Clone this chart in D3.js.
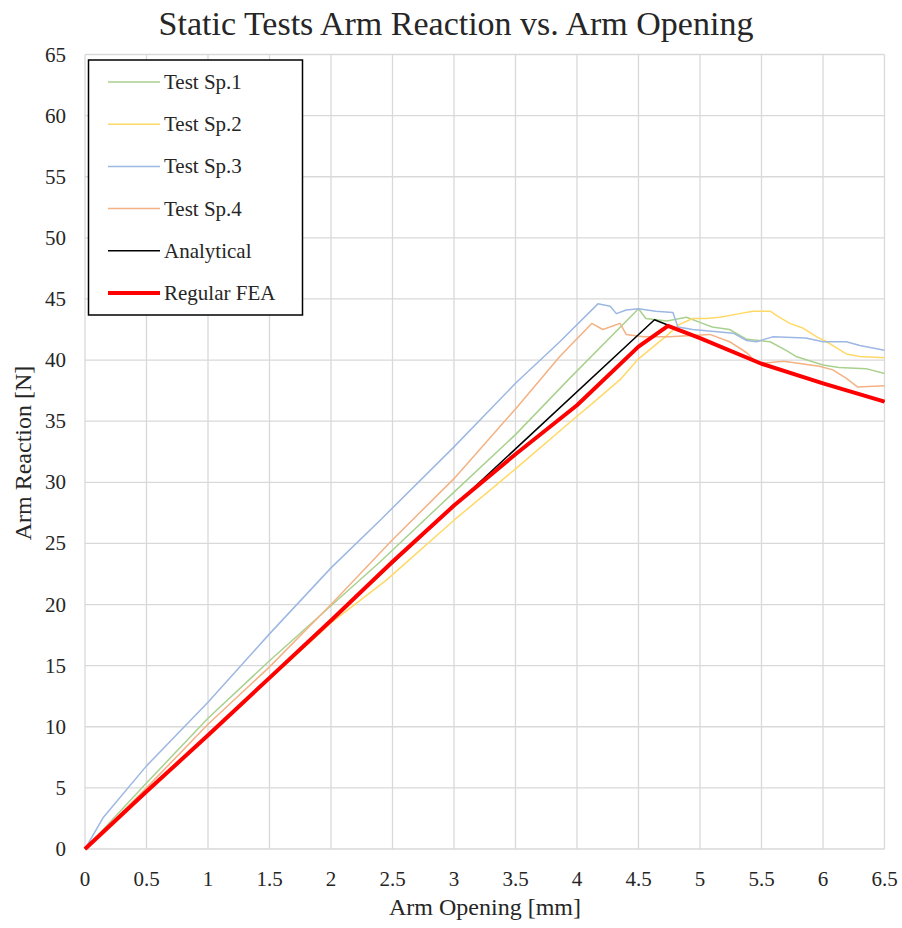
<!DOCTYPE html>
<html>
<head>
<meta charset="utf-8">
<script src="https://cdn.jsdelivr.net/npm/d3@7"></script>
<style>
  body { margin: 0; background: #fff; }
  text { font-family: "Liberation Serif", "Times New Roman", serif; fill: #262626; }
</style>
</head>
<body>
<script>
// data: [arm opening mm, arm reaction N]
var sp1 = [[0,0],[0.5,5.4],[1,10.7],[1.5,15.4],[2,19.9],[2.4,23.5],[3,29.2],[3.5,33.9],[3.93,38.4],[4.5,44.2],[4.56,43.4],[4.73,43.2],[4.89,43.5],[5.02,43.0],[5.1,42.7],[5.24,42.5],[5.38,41.7],[5.57,41.5],[5.7,40.8],[5.78,40.3],[6.0,39.6],[6.13,39.4],[6.35,39.3],[6.5,38.9]];
var sp2 = [[0,0],[0.5,4.6],[1,9.3],[1.5,13.9],[2,18.5],[2.45,22.0],[3,26.9],[3.5,31.1],[4,35.4],[4.13,36.5],[4.35,38.4],[4.5,40.1],[4.73,42.0],[4.83,42.9],[4.94,43.4],[5.05,43.4],[5.16,43.5],[5.32,43.8],[5.43,44.0],[5.57,44.0],[5.63,43.6],[5.73,43.0],[5.84,42.6],[5.95,41.9],[6.03,41.5],[6.11,41.0],[6.19,40.5],[6.3,40.3],[6.5,40.2]];
var sp3 = [[0,0],[0.15,2.6],[0.5,6.8],[1,12.0],[1.5,17.6],[2,23.0],[2.4,26.9],[3,32.9],[3.5,38.1],[3.86,41.5],[4.17,44.6],[4.27,44.4],[4.32,43.8],[4.4,44.1],[4.5,44.2],[4.64,44.0],[4.78,43.9],[4.82,42.7],[4.94,42.5],[5.27,42.2],[5.38,41.6],[5.46,41.5],[5.59,41.9],[5.86,41.8],[6.0,41.5],[6.19,41.5],[6.3,41.2],[6.5,40.8]];
var sp4 = [[0,0],[0.5,5.0],[1,10.2],[1.5,14.9],[2,20.0],[2.5,25.3],[3,30.3],[3.5,36.0],[3.86,40.3],[4.12,43.0],[4.21,42.5],[4.35,43.0],[4.4,42.1],[4.54,41.9],[4.75,41.9],[5.08,42.1],[5.24,41.5],[5.38,40.6],[5.47,39.7],[5.68,39.9],[5.97,39.5],[6.08,39.2],[6.19,38.5],[6.28,37.8],[6.5,37.9]];
var analytical = [[0,0],[4.63,43.3],[4.83,42.5],[5.0,41.8],[5.5,39.7],[6.0,38.1],[6.5,36.6]];
var regularFea = [[0,0],[0.5,4.7],[1,9.3],[1.5,14.0],[2,18.7],[2.5,23.5],[3,28.1],[3.5,32.3],[4,36.3],[4.5,41.1],[4.74,42.8],[5.0,41.8],[5.5,39.7],[6.0,38.1],[6.5,36.6]];

var seriesNames = ["Test Sp.1", "Test Sp.2", "Test Sp.3", "Test Sp.4", "Analytical", "Regular FEA"];
var xTicks = [0, 0.5, 1, 1.5, 2, 2.5, 3, 3.5, 4, 4.5, 5, 5.5, 6, 6.5];
var yTicks = [0, 5, 10, 15, 20, 25, 30, 35, 40, 45, 50, 55, 60, 65];

var allSeries = [sp1, sp2, sp3, sp4, analytical, regularFea];
var colors = ["#a9d18e", "#ffd966", "#9db7e3", "#f4b183", "#000000", "#ff0000"];
var widths = [1.5, 1.5, 1.5, 1.5, 1.5, 4];

var width = 902, height = 928;
var svg = d3.select("body").append("svg")
    .attr("width", width)
    .attr("height", height);

var x = d3.scaleLinear().domain([0, 6.5]).range([85, 884.5]);
var y = d3.scaleLinear().domain([0, 65]).range([849, 54.5]);

// gridlines
svg.append("g").selectAll("line.vgrid")
    .data(xTicks).enter().append("line")
    .attr("x1", d => x(d)).attr("x2", d => x(d))
    .attr("y1", y(0)).attr("y2", y(65))
    .attr("stroke", "#d9d9d9").attr("stroke-width", 1.3);

svg.append("g").selectAll("line.hgrid")
    .data(yTicks).enter().append("line")
    .attr("x1", x(0)).attr("x2", x(6.5))
    .attr("y1", d => y(d)).attr("y2", d => y(d))
    .attr("stroke", "#d9d9d9").attr("stroke-width", 1.3);

// tick labels
svg.append("g").selectAll("text")
    .data(xTicks).enter().append("text")
    .attr("x", d => x(d))
    .attr("y", 886)
    .attr("text-anchor", "middle")
    .attr("font-size", 21)
    .text(d => d);

svg.append("g").selectAll("text")
    .data(yTicks).enter().append("text")
    .attr("x", 66)
    .attr("y", d => y(d) + 7)
    .attr("text-anchor", "end")
    .attr("font-size", 21)
    .text(d => d);

// series lines
var line = d3.line().x(d => x(d[0])).y(d => y(d[1]));

svg.append("g").selectAll("path")
    .data(allSeries).enter().append("path")
    .attr("d", line)
    .attr("fill", "none")
    .attr("stroke", (d, i) => colors[i])
    .attr("stroke-width", (d, i) => widths[i])
    .attr("stroke-linejoin", "round");

// titles
svg.append("text")
    .attr("x", 456).attr("y", 35)
    .attr("text-anchor", "middle")
    .attr("font-size", 34)
    .text("Static Tests Arm Reaction vs. Arm Opening");

svg.append("text")
    .attr("x", 485).attr("y", 915)
    .attr("text-anchor", "middle")
    .attr("font-size", 24)
    .text("Arm Opening [mm]");

svg.append("text")
    .attr("transform", "translate(31, 453) rotate(-90)")
    .attr("text-anchor", "middle")
    .attr("font-size", 24)
    .text("Arm Reaction [N]");

// legend
var legend = svg.append("g");
legend.append("rect")
    .attr("x", 88.5).attr("y", 60)
    .attr("width", 214).attr("height", 255)
    .attr("fill", "#fff")
    .attr("stroke", "#000").attr("stroke-width", 1.5);

var items = legend.selectAll("g.item")
    .data(seriesNames).enter().append("g")
    .attr("transform", (d, i) => "translate(0," + (82 + i * 42.2) + ")");

items.append("line")
    .attr("x1", 108).attr("x2", 160)
    .attr("y1", 0).attr("y2", 0)
    .attr("stroke", (d, i) => colors[i])
    .attr("stroke-width", (d, i) => widths[i]);

items.append("text")
    .attr("x", 164).attr("y", 7)
    .attr("font-size", 21)
    .text(d => d);
</script>
</body>
</html>
